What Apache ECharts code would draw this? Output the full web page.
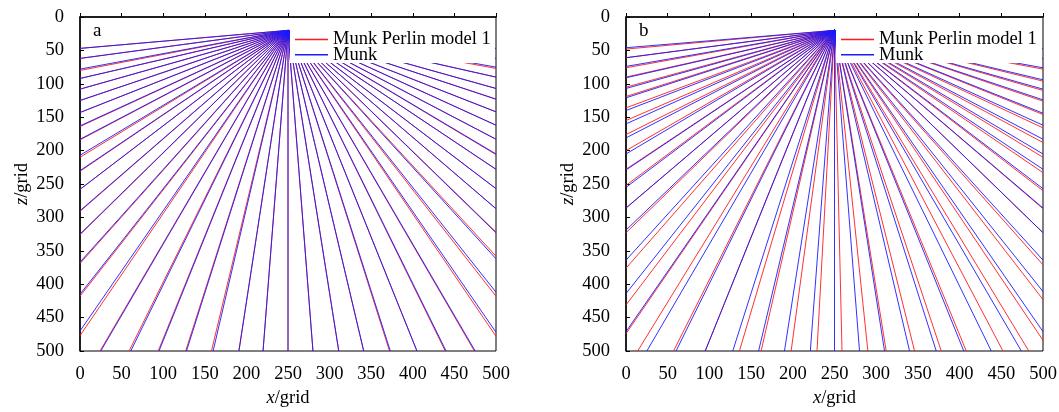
<!DOCTYPE html>
<html>
<head>
<meta charset="utf-8">
<script src="https://cdn.jsdelivr.net/npm/echarts@6/dist/echarts.min.js"></script>
<style>
  html, body { margin: 0; padding: 0; background: #fff; }
  #chart { width: 1059px; height: 412px; }
</style>
</head>
<body>
<div id="chart"></div>
<script>
// ---- data ----
const xTicks = [0, 50, 100, 150, 200, 250, 300, 350, 400, 450, 500];
const zTicks = [0, 50, 100, 150, 200, 250, 300, 350, 400, 450, 500];
const seriesNames = ['Munk Perlin model 1', 'Munk'];
const panelLabels = ['a', 'b'];
// ray source [x, z]
const source = [250, 20];

// Panel a - Munk (blue): ray end points
const munkA_left   = [47, 62, 78, 92, 108, 125, 143, 163, 183, 207, 230, 258, 290, 325, 367, 415, 470]; // z at x=0
const munkA_bottom = [25, 61, 95, 128, 160, 191, 220, 250, 280, 311, 341, 373, 405, 440, 475]; // x at z=500
const munkA_right  = [472, 412, 362, 323, 287, 257, 228, 205, 183, 162, 142, 123, 107, 90, 75, 62, 47]; // z at x=500

// Panel a - Munk Perlin model 1 (red)
const perlinA_left   = [47, 62, 80, 92, 108, 125, 143, 164, 184, 210, 231, 258, 291, 326, 369, 418, 477];
const perlinA_bottom = [24, 59, 94, 127, 158, 191, 220, 250, 280, 311, 341, 372, 405, 439, 474];
const perlinA_right  = [478, 418, 358, 322, 287, 257, 228, 206, 183, 162, 142, 123, 107, 90, 77, 62, 47];

// Panel b - Munk (blue)
const munkB_left   = [46, 61, 74, 91, 107, 121, 140, 160, 181, 205, 229, 255, 286, 319, 364, 414, 471];
const munkB_bottom = [25, 60, 95, 128, 159, 190, 221, 250, 280, 310, 340, 372, 405, 438, 474];
const munkB_right  = [471, 411, 364, 323, 286, 257, 228, 205, 183, 162, 144, 124, 108, 94, 76, 62, 47];

// Panel b - Munk Perlin model 1 (red)
const perlinB_left   = [48, 61, 76, 90, 105, 119, 136, 155, 176, 200, 228, 252, 286, 323, 376, 431, 474];
const perlinB_bottom = [14, 57, 95, 136, 162, 198, 229, 259, 290, 312, 346, 378, 408, 452, 483];
const perlinB_right  = [484, 423, 371, 323, 287, 260, 233, 210, 188, 166, 146, 126, 110, 96, 78, 63, 48];

// ---- build ----
function ends(left, bottom, right) {
  return left.map(z => [0, z])
    .concat(bottom.map(x => [x, 500]))
    .concat(right.map(z => [500, z]));
}
const panels = [
  { red: ends(perlinA_left, perlinA_bottom, perlinA_right), blue: ends(munkA_left, munkA_bottom, munkA_right) },
  { red: ends(perlinB_left, perlinB_bottom, perlinB_right), blue: ends(munkB_left, munkB_bottom, munkB_right) }
];

const FONT = 'Liberation Serif';
const FS = 18.5;
const RED = '#ff1a1a', BLUE = '#1a1aff';
const gridDefs = [
  { left: 80, top: 17, width: 416, height: 334 },
  { left: 626, top: 17, width: 417, height: 334 }
];

const series = [];
panels.forEach((p, i) => {
  [['red', RED, seriesNames[0]], ['blue', BLUE, seriesNames[1]]].forEach(([key, color, name]) => {
    p[key].forEach(e => {
      series.push({
        type: 'line', name: name, xAxisIndex: i, yAxisIndex: i,
        data: [source, e], symbol: 'none', showSymbol: false, silent: true,
        lineStyle: { color: color, width: 0.9 }, itemStyle: { color: color },
        z: key === 'red' ? 2 : 3, animation: false, clip: true
      });
    });
  });
});

const nameStyle = {
  fontFamily: FONT, fontSize: FS, color: '#000',
  rich: { i: { fontFamily: FONT, fontSize: FS, fontStyle: 'italic', color: '#000' } }
};

const chart = echarts.init(document.getElementById('chart'), null, { renderer: 'canvas' });
chart.setOption({
  animation: false,
  backgroundColor: '#fff',
  grid: gridDefs.map(g => Object.assign({
    show: true, borderColor: '#000', borderWidth: 1, backgroundColor: 'transparent',
    containLabel: false, outerBoundsMode: 'none'
  }, g)),
  xAxis: gridDefs.map((g, i) => ({
    type: 'value', gridIndex: i, min: xTicks[0], max: xTicks[xTicks.length - 1], interval: xTicks[1] - xTicks[0],
    name: '{i|x}/grid', nameLocation: 'middle', nameGap: 38, nameTextStyle: nameStyle,
    axisLine: { show: true, lineStyle: { color: '#000', width: 1.5 } },
    axisTick: { show: true, inside: true, length: 4, lineStyle: { color: '#000' } },
    axisLabel: { fontFamily: FONT, fontSize: FS, color: '#000', margin: 14 },
    splitLine: { show: false }
  })),
  yAxis: gridDefs.map((g, i) => ({
    type: 'value', gridIndex: i, inverse: true, min: zTicks[0], max: zTicks[zTicks.length - 1], interval: zTicks[1] - zTicks[0],
    name: '{i|z}/grid', nameLocation: 'middle', nameGap: 48, nameRotate: 90, nameTextStyle: nameStyle,
    axisLine: { show: true, lineStyle: { color: '#000', width: 1.5 } },
    axisTick: { show: true, inside: true, length: 4, lineStyle: { color: '#000' } },
    axisLabel: { fontFamily: FONT, fontSize: FS, color: '#000', margin: 16 },
    splitLine: { show: false }
  })),
  legend: gridDefs.map((g, i) => ({
    data: seriesNames, orient: 'vertical', left: g.left + 210, top: g.top + 1, z: 20,
    padding: [12, 5, 1, 5],
    icon: 'rect', itemWidth: 33, itemHeight: 1.6, itemGap: -3.8, selectedMode: false,
    textStyle: { fontFamily: FONT, fontSize: FS, color: '#000' }
  })),
  graphic: gridDefs.map((g, i) => ({
    type: 'text', left: g.left + 13, top: g.top + 5, z: 100,
    style: { text: panelLabels[i], font: '19px "Liberation Serif"', fill: '#000' }
  })).concat(gridDefs.map(g => ({
    // white panel behind the legend (hides the rays there)
    type: 'rect', z: 10, silent: true,
    shape: { x: g.left + 210, y: g.top + 1, width: g.width - 211, height: 45 },
    style: { fill: '#fff' }
  }))),
  series: series
});
</script>
</body>
</html>
